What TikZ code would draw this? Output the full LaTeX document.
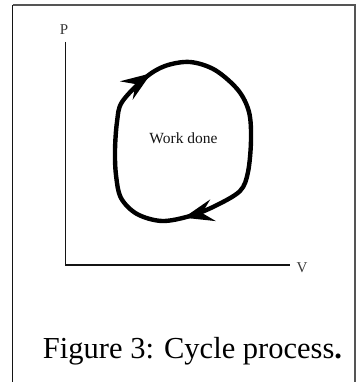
\documentclass[tikz,border=0pt]{standalone}
\usepackage{fontspec}
\setmainfont{Liberation Serif}
\usetikzlibrary{arrows.meta,decorations.markings}
\definecolor{ink}{RGB}{20,20,20}
\definecolor{framegray}{RGB}{85,85,85}
\definecolor{labelgray}{RGB}{55,55,55}

\begin{document}
\begin{tikzpicture}[x=1pt,y=-1pt,
    framerule/.style={draw=#1,line width=1.6pt},
    axis/.style={draw=ink,line width=1.8pt,line join=miter},
    axislabel/.style={font=\fontsize{15}{15}\selectfont,text=labelgray,
      inner sep=0pt,anchor=base},
    worklabel/.style={font=\fontsize{15.5}{15.5}\selectfont,text=ink,
      inner sep=0pt,anchor=base},
    captionlabel/.style={font=\fontsize{30.5}{30.5}\selectfont,text=black,
      inner sep=0pt,anchor=base},
    cycleloop/.style={draw=black,line width=4.4pt,line join=round,
      postaction={decorate,decoration={markings,
        mark=at position 0.13 with {\arrow{Stealth[length=30pt,width=22pt,inset=11pt]}},
        mark=at position 0.69 with {\arrow{Stealth[length=30pt,width=22pt,inset=11pt]}}}}},
  ]
  \useasboundingbox (0,0) rectangle (360,382);

  % frame, open at the bottom
  \draw[framerule=ink] (12.5,382) -- (12.5,5);
  \draw[framerule=framegray] (12.5,5) -- (354.7,5) -- (354.7,382);

  % axes
  \coordinate (ptop) at (65.5,42);
  \coordinate (origin) at (65.5,265);
  \coordinate (vend) at (290,265);
  \draw[axis] (ptop) -- (origin) -- (vend);
  \node[axislabel] (plabel) at (64,35) {P};
  \node[axislabel] (vlabel) at (302,272) {V};

  % the cycle
  \draw[cycleloop] plot[smooth cycle,tension=0.55] coordinates {
    (115,150) (117,122) (122,102) (145,78) (165,66) (190,62)
    (215,70) (238,90) (249,112) (251,140) (248,172) (240,191)
    (215,206) (190,216) (162,221) (137,214) (121,198) (116,175)};
  \node[worklabel] (work) at (183.5,143) {Work done};

  \node[captionlabel] (caption) at (192.5,358) {Figure 3: Cycle process\textbf{.}};
\end{tikzpicture}
\end{document}
